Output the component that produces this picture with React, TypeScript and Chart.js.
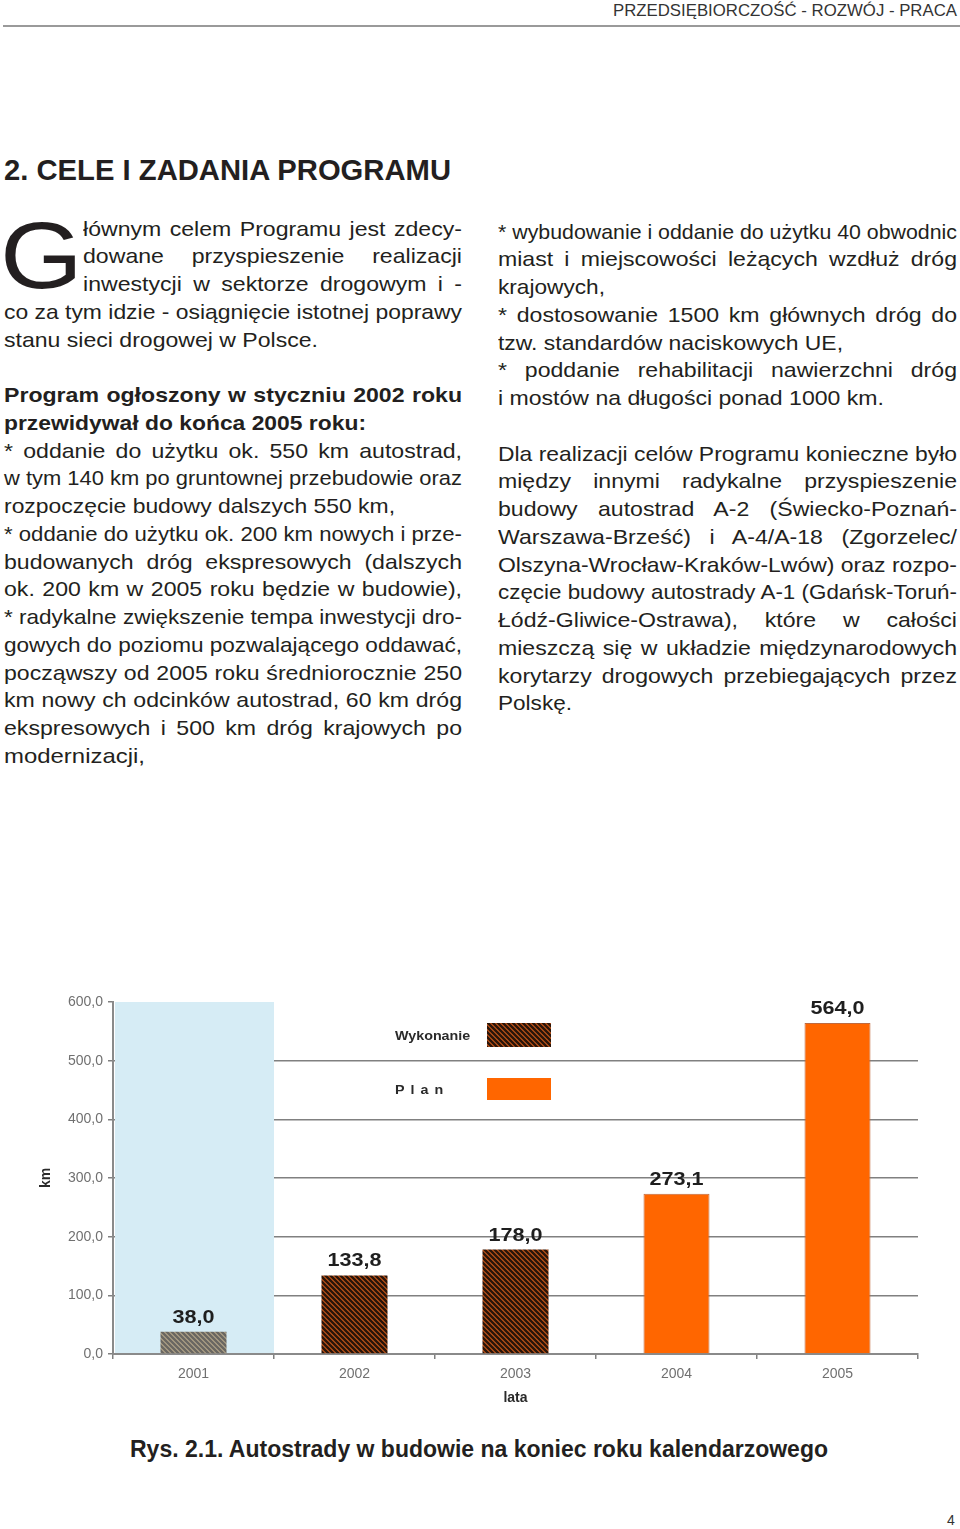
import React, { useEffect, useRef } from 'react';
import { Chart, registerables } from 'chart.js';

Chart.register(...registerables);

// ---------- chart data ----------
const years = ['2001', '2002', '2003', '2004', '2005'];
const wykonanie: (number | null)[] = [38.0, 133.8, 178.0, null, null];
const plan: (number | null)[] = [null, null, null, 273.1, 564.0];
const yMin = 0;
const yMax = 600;
const yStep = 100;
const seriesLabels = ['Wykonanie', 'Plan'];
const axisTitleX = 'lata';
const axisTitleY = 'km';

// ---------- page text ----------
const headerText = 'PRZEDSIĘBIORCZOŚĆ - ROZWÓJ - PRACA';
const titleText = '2. CELE I ZADANIA PROGRAMU';
const captionText = 'Rys. 2.1. Autostrady w budowie na koniec roku kalendarzowego';
const pageNo = '4';

// [text, justified?, target width, bold?, drop-cap indent?]
type Ln = [string, boolean, number, boolean, boolean] | null;
const leftLines: Ln[] = [
  ['łównym celem Programu jest zdecy-', true, 379, false, true],
  ['dowane przyspieszenie realizacji', true, 379, false, true],
  ['inwestycji w sektorze drogowym i -', true, 379, false, true],
  ['co za tym idzie - osiągnięcie istotnej poprawy', true, 458, false, false],
  ['stanu sieci drogowej w Polsce.', false, 314, false, false],
  null,
  ['Program ogłoszony w styczniu 2002 roku', true, 458, true, false],
  ['przewidywał do końca 2005 roku:', false, 362, true, false],
  ['* oddanie do użytku ok. 550 km autostrad,', true, 458, false, false],
  ['w tym 140 km po gruntownej przebudowie oraz', true, 458, false, false],
  ['rozpoczęcie budowy dalszych 550 km,', false, 391, false, false],
  ['* oddanie do użytku ok. 200 km nowych i prze-', true, 458, false, false],
  ['budowanych dróg ekspresowych (dalszych', true, 458, false, false],
  ['ok. 200 km w 2005 roku będzie w budowie),', true, 458, false, false],
  ['* radykalne zwiększenie tempa inwestycji dro-', true, 458, false, false],
  ['gowych do poziomu pozwalającego oddawać,', true, 458, false, false],
  ['począwszy od 2005 roku średniorocznie 250', true, 458, false, false],
  ['km nowy ch odcinków autostrad, 60 km dróg', true, 458, false, false],
  ['ekspresowych i 500 km dróg krajowych po', true, 458, false, false],
  ['modernizacji,', false, 141, false, false],
];
const rightLines: Ln[] = [
  ['* wybudowanie i oddanie do użytku 40 obwodnic', true, 459, false, false],
  ['miast i miejscowości leżących wzdłuż dróg', true, 459, false, false],
  ['krajowych,', false, 107, false, false],
  ['* dostosowanie 1500 km głównych dróg do', true, 459, false, false],
  ['tzw. standardów naciskowych UE,', false, 345, false, false],
  ['* poddanie rehabilitacji nawierzchni dróg', true, 459, false, false],
  ['i mostów na długości ponad 1000 km.', false, 386, false, false],
  null,
  ['Dla realizacji celów Programu konieczne było', true, 459, false, false],
  ['między innymi radykalne przyspieszenie', true, 459, false, false],
  ['budowy autostrad A-2 (Świecko-Poznań-', true, 459, false, false],
  ['Warszawa-Brześć) i A-4/A-18 (Zgorzelec/', true, 459, false, false],
  ['Olszyna-Wrocław-Kraków-Lwów) oraz rozpo-', true, 459, false, false],
  ['częcie budowy autostrady A-1 (Gdańsk-Toruń-', true, 459, false, false],
  ['Łódź-Gliwice-Ostrawa), które w całości', true, 459, false, false],
  ['mieszczą się w układzie międzynarodowych', true, 459, false, false],
  ['korytarzy drogowych przebiegających przez', true, 459, false, false],
  ['Polskę.', false, 74, false, false],
];

const FONT = '"Liberation Sans", Arial, Helvetica, sans-serif';
const LH = 27.75;

function makeHatch(bg: string, fg: string, size = 5, lw = 2.4): CanvasPattern | string {
  const c = document.createElement('canvas');
  c.width = size;
  c.height = size;
  const g = c.getContext('2d');
  if (!g) return bg;
  g.fillStyle = bg;
  g.fillRect(0, 0, size, size);
  g.strokeStyle = fg;
  g.lineWidth = lw;
  g.beginPath();
  for (const k of [-size, 0, size]) {
    g.moveTo(-1, -1 + k);
    g.lineTo(size + 1, size + 1 + k);
  }
  g.stroke();
  const p = g.createPattern(c, 'repeat');
  return p || bg;
}

function fmt(v: number) {
  return v.toFixed(1).replace('.', ',');
}

function BarChart() {
  const ref = useRef<HTMLCanvasElement | null>(null);
  useEffect(() => {
    if (!ref.current) return;
    const hatch = makeHatch('#c9581a', '#2a150a');
    const hatchGray = makeHatch('#b3a589', '#6a6762');
    const planColor = '#ff6600';

    const bgPlugin = {
      id: 'bgBand',
      beforeDatasetsDraw(chart: any) {
        const { ctx, chartArea, scales } = chart;
        const x = scales.x;
        const y = scales.y;
        const left = chartArea.left + 2;
        const right = (x.getPixelForValue(0) + x.getPixelForValue(1)) / 2;
        const top = y.getPixelForValue(yMax);
        const bottom = y.getPixelForValue(0) - 1;
        ctx.save();
        ctx.fillStyle = '#d6ecf5';
        ctx.fillRect(left, top, right - left, bottom - top);
        ctx.restore();
      },
    };

    const labelsPlugin = {
      id: 'valLabels',
      afterDatasetsDraw(chart: any) {
        const { ctx } = chart;
        ctx.save();
        ctx.fillStyle = '#1e1e1e';
        ctx.font = `bold 18px ${FONT}`;
        ctx.textAlign = 'center';
        ctx.textBaseline = 'bottom';
        chart.data.datasets.forEach((ds: any, di: number) => {
          const meta = chart.getDatasetMeta(di);
          meta.data.forEach((el: any, i: number) => {
            const v = ds.data[i];
            if (v === null || v === undefined) return;
            ctx.save();
            ctx.translate(el.x, el.y - 5);
            ctx.scale(1.2, 1);
            ctx.fillText(fmt(v), 0, 0);
            ctx.restore();
          });
        });
        ctx.restore();
      },
    };

    const legendPlugin = {
      id: 'customLegend',
      afterDraw(chart: any) {
        const { ctx, chartArea } = chart;
        const items = [
          { text: chart.data.datasets[0].label, fill: hatch, dy: 21, h: 24, spacing: 0 },
          { text: chart.data.datasets[1].label, fill: planColor, dy: 76, h: 22, spacing: 5.5 },
        ];
        ctx.save();
        items.forEach((it) => {
          const tx = chartArea.left + 282;
          const sx = chartArea.left + 374;
          const sy = chartArea.top + it.dy;
          ctx.fillStyle = it.fill as any;
          ctx.fillRect(sx, sy, 64, it.h);
          ctx.fillStyle = '#2a2a2a';
          ctx.font = `bold 13px ${FONT}`;
          ctx.textAlign = 'left';
          ctx.textBaseline = 'middle';
          (ctx as any).letterSpacing = it.spacing + 'px';
          ctx.save();
          ctx.translate(tx, sy + it.h / 2 + 1);
          ctx.scale(1.1, 1);
          ctx.fillText(it.text, 0, 0);
          ctx.restore();
          (ctx as any).letterSpacing = '0px';
        });
        ctx.restore();
      },
    };

    const gridGray = '#808080';
    const chart = new Chart(ref.current, {
      type: 'bar',
      data: {
        labels: years,
        datasets: [
          {
            label: seriesLabels[0],
            data: wykonanie,
            backgroundColor: [hatchGray, hatch, hatch, hatch, hatch] as any,
            borderWidth: 0,
          },
          {
            label: seriesLabels[1],
            data: plan,
            backgroundColor: planColor,
            borderColor: '#bf6a3f',
            borderWidth: 1,
          },
        ],
      },
      options: {
        responsive: false,
        animation: false,
        layout: { padding: { top: 17, right: 22, left: 0, bottom: 0 } },
        datasets: { bar: { grouped: false, categoryPercentage: 1, barPercentage: 0.41 } } as any,
        plugins: { legend: { display: false }, tooltip: { enabled: false } },
        scales: {
          x: {
            offset: true,
            grid: { drawOnChartArea: false, drawTicks: true, tickLength: 5, color: gridGray, offset: true, lineWidth: 1.5 },
            border: { color: '#8a8a8a', width: 2 },
            ticks: { color: '#707070', font: { size: 14, family: FONT }, padding: 7 },
            title: { display: true, text: axisTitleX, color: '#2a2a2a', font: { size: 14, weight: 'bold', family: FONT }, padding: { top: 0, bottom: 13 } },
            afterFit: (s: any) => { s.height = 66; },
          } as any,
          y: {
            min: yMin,
            max: yMax,
            ticks: { stepSize: yStep, color: '#707070', font: { size: 14, family: FONT }, padding: 5, callback: (v: any) => fmt(Number(v)) },
            grid: {
              color: (c: any) => (c.tick && c.tick.value === yMax ? 'rgba(0,0,0,0)' : gridGray),
              tickColor: gridGray,
              tickLength: 5,
              lineWidth: 1.5,
            },
            border: { color: '#8a8a8a', width: 2 },
            title: { display: true, text: axisTitleY, color: '#2a2a2a', font: { size: 14, weight: 'bold', family: FONT }, padding: { top: 38, bottom: 0 } },
            afterFit: (s: any) => { s.width = 113; },
          } as any,
        },
      },
      plugins: [bgPlugin, labelsPlugin, legendPlugin],
    });
    return () => chart.destroy();
  }, []);
  return <canvas ref={ref} width={940} height={435} style={{ position: 'absolute', left: 0, top: 985, width: 940, height: 435 }} />;
}

function Lines({ lines, left, top, width }: { lines: Ln[]; left: number; top: number; width: number }) {
  return (
    <div style={{ position: 'absolute', left, top, width, fontSize: 21, lineHeight: LH + 'px' }}>
      {lines.map((l, i) => {
        if (!l) return <div key={i} style={{ height: LH }} />;
        const [t, just, w, bold, indent] = l;
        return (
          <div key={i} style={{ height: LH, whiteSpace: 'pre', paddingLeft: indent ? 79 : 0 }}>
            <span
              data-fit={w}
              data-just={just ? '1' : '0'}
              style={{ display: 'inline-block', whiteSpace: 'pre', transformOrigin: '0 50%', fontWeight: bold ? 'bold' : 'normal' }}
            >
              {t}
            </span>
          </div>
        );
      })}
    </div>
  );
}

export default function App() {
  useEffect(() => {
    const run = () => {
      document.querySelectorAll<HTMLElement>('[data-fit]').forEach((el) => {
        el.style.transform = 'none';
        el.style.wordSpacing = '0px';
        const w = el.getBoundingClientRect().width;
        const target = parseFloat(el.dataset.fit || '0');
        if (!w || !target) return;
        const just = el.dataset.just === '1';
        let s = target / w;
        if (just && s > 1.1) {
          const spaces = (el.textContent || '').split(' ').length - 1;
          if (spaces > 0) {
            s = 1.1;
            el.style.wordSpacing = (target / 1.1 - w) / spaces + 'px';
          }
        }
        el.style.transform = `scaleX(${s})`;
      });
    };
    run();
    if ((document as any).fonts && (document as any).fonts.ready) (document as any).fonts.ready.then(run);
  }, []);

  return (
    <div
      style={{
        position: 'absolute',
        left: 0,
        top: 0,
        width: 960,
        height: 1529,
        background: '#fff',
        overflow: 'hidden',
        fontFamily: FONT,
        color: '#231f20',
      }}
    >
      <div style={{ position: 'absolute', left: 613, top: 2, fontSize: 16.5, lineHeight: 1, color: '#333', whiteSpace: 'pre' }}>
        <span data-fit={344} data-just="0" style={{ display: 'inline-block', transformOrigin: '0 50%' }}>{headerText}</span>
      </div>
      <div style={{ position: 'absolute', left: 3, top: 25, width: 957, height: 2, background: '#9a9a9a' }} />

      <div style={{ position: 'absolute', left: 4, top: 155, fontSize: 30, lineHeight: 1, fontWeight: 'bold', whiteSpace: 'pre' }}>
        <span data-fit={447} data-just="0" style={{ display: 'inline-block', transformOrigin: '0 50%' }}>{titleText}</span>
      </div>

      <div style={{ position: 'absolute', left: 0, top: 208, fontSize: 95, lineHeight: 1, transform: 'scaleX(1.12)', transformOrigin: '0 0' }}>G</div>

      <Lines lines={leftLines} left={4} top={214.5} width={458} />
      <Lines lines={rightLines} left={498} top={217.5} width={459} />

      <BarChart />

      <div style={{ position: 'absolute', left: 130, top: 1438, fontSize: 23, lineHeight: 1, fontWeight: 'bold', whiteSpace: 'pre' }}>
        <span data-fit={698} data-just="0" style={{ display: 'inline-block', transformOrigin: '0 50%' }}>{captionText}</span>
      </div>

      <div style={{ position: 'absolute', left: 947, top: 1513, fontSize: 14, lineHeight: 1, color: '#333' }}>{pageNo}</div>
    </div>
  );
}
